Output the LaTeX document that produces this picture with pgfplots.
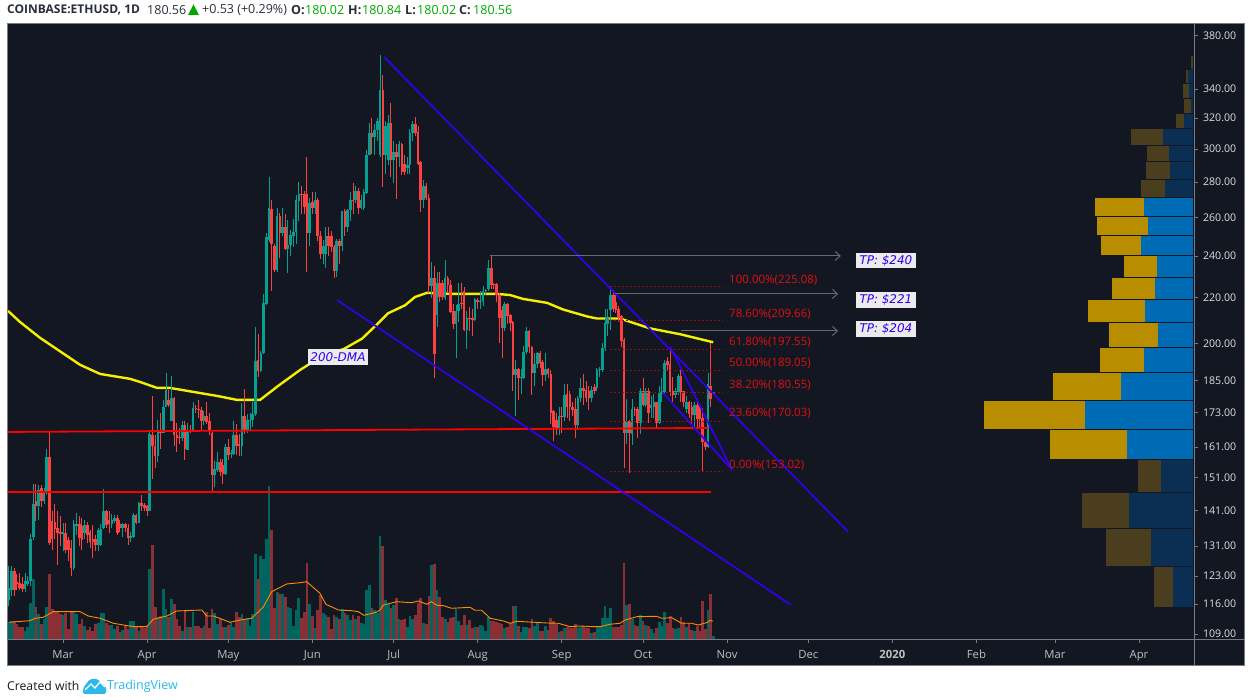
\documentclass[border=0pt]{standalone}
\usepackage{fontspec}
\setmainfont{Open Sans}
\newfontfamily\djv{DejaVu Sans}
\usepackage{pgfplots}
\usepackage{pgfplotstable}
\pgfplotsset{compat=1.18}
\usetikzlibrary{arrows.meta}
\definecolor{bg}{HTML}{131722}
\definecolor{frm}{HTML}{787B86}
\definecolor{cup}{HTML}{06A090}
\definecolor{cdn}{HTML}{FF4040}
\definecolor{vup}{HTML}{00645F}
\definecolor{vdn}{HTML}{8A2F36}
\definecolor{gold}{HTML}{B88E00}
\definecolor{blu}{HTML}{006BB5}
\definecolor{dgold}{HTML}{4B3E1E}
\definecolor{dblu}{HTML}{0A2F52}
\definecolor{trend}{HTML}{3300EE}
\definecolor{fib}{HTML}{8F1010}
\definecolor{fibt}{HTML}{E01010}
\definecolor{tvb}{HTML}{2BB9EC}
\definecolor{hg}{HTML}{00A800}
\definecolor{htx}{HTML}{2A2E39}
\definecolor{dma}{HTML}{F5F000}
\definecolor{tpl}{HTML}{666870}
\pgfplotstableread{
d o h l c v
-20 117 125.5 115.5 120 17
-19 119.5 125.5 118 124.3 18
-14 119.7 123.7 119 121.7 8
-13 121 123 120.5 121.8 12
-12 121.7 134.4 120.5 133 36
-11 133.5 149 132.5 143 60
-9 142.3 148.8 138.3 147.3 25
-7 144 147.7 143 146.7 20
-6 146.5 160.5 145.7 157.7 32
0 134.4 137.5 129.5 135 24
4 125.2 138.4 124.7 137.1 27
5 136.5 140.3 134 137.2 25
8 134.5 138.3 133 136.8 13
13 131.3 136 129.6 135.3 16
14 131.3 137 131 135.8 26
15 136 147.5 135.8 140.8 26
18 137 140 136 138.4 14
19 138 139.8 137.5 138.9 10
22 136 137.5 133.5 137 9
25 133.3 135 132 133.8 18
26 133.5 140.3 133.2 139.6 18
28 137.5 143.6 137.3 143.2 8
32 141 166.5 140.8 165.6 70
35 158 170.3 156 166.5 22
37 166 177.5 166 175 50
38 175 188 175 181.5 30
40 170 186.8 170 178.5 40
44 164 170 163 168.7 8
46 160.2 169.5 160 166.8 12
48 166.7 176.8 166.6 174.6 27
52 170 173.5 168.5 172 13
56 152 156.5 148 153.8 26
57 153.5 159.5 152.9 156 15
60 152.2 162 152 161 12
62 158.6 160 157.5 158.9 17
63 158.6 170 158.5 165 12
66 161.3 176.7 158 171.8 25
68 166.7 172.7 166 170.3 21
69 170 173 167 170.4 13
70 170.4 176.8 168 172.6 25
71 172.6 207 172 192.7 85
73 188.8 196.7 188.5 196 83
74 196 221.5 195.5 217.4 80
75 217 251.6 216.8 249.9 100
76 248 283 247 265.3 153
79 233 265 232 261 47
81 252 265 250 255 45
83 243.5 258.5 231.5 245.6 32
84 245.6 253.5 240 250.5 31
85 250 259.5 244.5 252.5 13
86 252.3 272.5 246 269.5 29
87 269 280 258 273 41
91 252 271 245 268 35
93 265 274 262 270 11
96 241 248 236 245 26
97 241 255 234 250 24
101 232.5 248.5 229.5 247.5 22
103 245 263.8 242.5 263.5 30
105 255 264.5 252.5 264 24
106 264 274.5 258 270 19
108 270 277.5 268 275 20
110 265 272.5 264.5 269.5 16
111 265.5 276 264 274 15
112 273.5 299.5 273 296 49
113 296.5 317 296 310 54
115 307.5 316 296 312 29
116 312 320 305 318 26
117 296.5 365 295 339.5 103
119 296.5 318 285 315 39
120 293 322 290 317 35
122 293.5 305 279.5 298 34
124 295 305 289 303 20
127 288.5 295 285 290 12
128 290 313 285 310 23
129 310 318 305 316 20
133 270 281 265 278 16
136 225.5 237 220 229 74
138 212 232 207 227 49
141 220 238 219 229 20
145 208 216.5 194 214 30
146 214 226.7 209 217 18
149 205.5 214 197.8 211 14
152 210 220 209.5 219.5 12
154 218 223 215 218.5 14
155 218.5 225.5 216 223 13
156 223 224 221 223.5 8
157 224 238 223 234 22
163 206.5 218 205 217 11
167 187 193 171.8 189.5 33
169 186 189.5 180 186.5 7
170 186 199 185.8 196.5 12
171 196.5 207 195.5 205 12
174 188 196 183 191.5 13
175 191.5 196.5 190 196 16
178 187 196 185 189.5 13
183 167.5 175 165 172 7
185 171.5 183.5 170 179.5 11
190 168.5 179 167 178.5 11
191 178.5 186 177 182 12
195 178.5 183 177 181.5 6
197 182 190 181 189 12
198 189 190.5 186.5 189.5 13
199 189 200 188.5 198 21
200 198 215 197 208.5 33
201 208 215 203 211 21
202 214.5 225.5 205.5 221.3 31
208 166 178 162 170.2 34
210 165.5 178 161.7 174.5 20
213 169.3 182 165.5 181 24
215 176 182 175 181 14
217 174.8 179 171 176 10
218 175.2 180 171 176.8 6
220 169.5 183 169 180.5 17
221 180 186 177 181 13
222 180.5 193 180 192 27
226 179.5 182 178.5 181 10
227 180.5 187.5 179.5 186.8 11
230 174.5 179 173 177 12
233 172.2 177 168 175.7 8
238 161 188 160.8 183.5 29
240 180.02 180.84 180.02 180.56 3
}\upt
\pgfplotstableread{
d o h l c v
-18 124.3 125 118 119.5 18
-17 121.5 123.5 119.5 121 15
-16 121.2 123.7 119.5 120 12
-15 121 122.8 119 119.7 12
-10 144 149 138 142.3 32
-8 147.7 148.8 142 144 15
-5 157.7 166.6 131.3 131.8 65
-4 138 141 130 133 30
-3 137.8 143 133 135.8 28
-2 136 140.8 125.9 134.5 27
-1 135 139.3 130.9 134.3 25
1 134.7 137.5 129 130 26
2 132.5 133.5 127 130 10
3 130.4 132.7 123 125.2 27
6 137.1 139.3 130.9 133.2 15
7 136.5 139 130 132.7 20
9 136.8 137.6 131.8 134 9
10 135 135.5 130.4 132.2 12
11 133 136.8 127.7 132.2 8
12 133 134 129.6 131.3 15
16 140.8 141.3 136 136.8 16
17 138.4 140.8 134.5 137 14
20 138.9 139.8 134 134.6 13
21 137 138.4 135 136 7
23 137 137.5 135 136 14
24 136 137 131.3 133.3 10
27 139.6 140 137 137.5 12
29 143.2 145.7 140.8 142.4 13
30 142.7 143.2 140.8 141.8 11
31 142.3 142.8 139.3 141 12
33 165 179.3 150.7 161.5 94
34 161.5 165 154 158 32
36 166.5 173 160.5 166 23
39 177.5 181.5 175 176 22
41 178.5 178.8 161.5 165 35
42 165 169.5 159.5 164 20
43 164.6 167.5 162 164 13
45 168.7 170 156.7 160.5 28
47 167 168.5 166 166.8 12
49 174.6 176 173 174.2 13
50 174.4 177.8 171 174 13
51 174 175.2 167 170 11
53 172 177 169 169.8 27
54 170 173 165 166.5 11
55 166 166.3 146.5 152 30
58 156 157 151.5 153 20
59 155 157 149 152.2 12
61 161 163.8 156.8 158.5 14
64 165 169 158.5 161.4 27
65 162 165.6 158 161.4 22
67 171.8 181.8 165.6 166.8 19
72 193 204 186.5 188.8 60
77 264.8 270 223 246 109
78 245 246 232 233 31
80 261 262.5 239 252 45
82 255 262 243 243.5 42
88 273 277.5 262 272.5 21
89 273 275 262 266 27
90 273 295 232 252 76
92 268.5 274 262 265 23
94 270 271 247.5 250 29
95 250 253 238.5 241 44
98 250 255 240 245 22
99 250 253 242 244.5 10
100 244.5 245.5 229 232.5 24
102 247.5 248.5 236 245 20
104 263.5 264.5 250 255 26
107 270 279.5 262 269 24
109 275 276.5 262 265 23
114 310 320 297 307.5 31
118 339.5 350 277 296.5 93
121 317 330 283 293.5 31
123 298 303 270.5 295 41
125 303 303.5 284 286 19
126 291 296 284 286 20
130 316 321 308 310 24
131 311 315 290 291 36
132 292 292.5 263 270 41
134 278 279.5 270 271 15
135 271 273 222 225.5 43
137 229 235 186 195.5 75
139 227 232 218 220.5 42
140 227 228 219 220.5 22
142 229 230 222 226 17
143 226 228 213 213.5 21
144 214 217 206 208 22
147 217.5 227 215 217 14
148 223 225 205 205.5 24
150 211 215.5 205 210.5 19
151 211 215 203 210 11
153 219 220 215 218 12
158 234 240 224 226 18
159 226.5 227 224 226.2 18
160 226.5 227 218 221 17
161 221 222 200 211 16
162 214.5 216 194 206.5 15
164 217 217.5 208 211.5 12
165 212 212.5 205 208.5 16
166 209 209.5 181 187 33
168 189.5 189.8 177.5 186 13
172 205 205.5 196 198.5 11
173 198.5 199 179.5 188 20
176 196 197 190 192 8
177 192.5 193 183 187 8
179 189.5 190 186 187.5 9
180 187.5 189 169 173 21
181 173.5 174 163 168 18
182 170.5 173 165 167.5 15
184 172 175 166 171.5 8
186 180 183.5 171 175 12
187 180 181 170 175 11
188 175 177 172 174 11
189 174.5 178.5 164 168.5 15
192 182 187.5 176 181 13
193 181.5 185 177 178.5 11
194 181 183 174 178.5 11
196 182.5 183.5 180 181 7
203 221.3 223.5 213.5 215 12
204 218 221 213 214.5 12
205 215 216 209 211 12
206 211.5 212 198.5 201 14
207 201.5 202 154 166 76
209 170 170.4 152.5 165.7 35
211 174.5 175 172 174 14
212 174.5 175 164 169.3 13
214 181 186 175.5 176 18
216 181 182 169.5 173 13
219 176.8 177 167.5 169.5 11
223 192.8 194.5 189 191 16
224 191.5 198.3 179.3 180.5 23
225 181 186.5 177 179.5 11
228 186.8 189 177 180.5 22
229 181 181 175 177 17
231 177 177.2 171 172.7 16
232 175 177 168.5 172.2 9
234 175.7 178 168 170.8 13
235 175 175.3 168 170.8 8
236 171 174.6 152.9 162.6 38
237 162.6 163.5 160 161 10
239 183 200 175 178 45
}\dnt
\newcommand\fs[1]{\fontsize{#1}{#1}\selectfont}
% one row of the volume profile: low, high, sell-side, total, colours
\newcommand\pv[6]{%
  \addplot[fill=#6,draw=none,forget plot] coordinates {(#4,#1)(0,#1)(0,#2)(#4,#2)} --cycle;
  \addplot[fill=#5,draw=none,forget plot] coordinates {(#3,#1)(0,#1)(0,#2)(#3,#2)} --cycle;
}
\begin{document}
\begin{tikzpicture}
\useasboundingbox (0,0) rectangle (1255pt,700pt);
\fill[white] (0,0) rectangle (1255pt,700pt);
\begin{scope}[shift={(0,700pt)},x=1pt,y=-1pt]
\fill[bg] (7.5,23.5) rectangle (1244.5,666);
\draw[frm,line width=1pt] (7.5,23.5) rectangle (1244.5,666);
\draw[frm,line width=1pt] (7.5,639.5) -- (1244.5,639.5);
\draw[frm,line width=1pt] (1194.5,23.5) -- (1194.5,666);
\end{scope}
% volume pane
\begin{axis}[name=vol,at={(8pt,61pt)},anchor=south west,scale only axis,width=1186pt,height=616pt,
  xmin=-20.3,xmax=417.3,ymin=0,ymax=616,hide axis,clip=true]
\addplot[ycomb,line width=2.75pt,color=vup,mark=none] table[x=d,y=v] {\upt};
\addplot[ycomb,line width=2.75pt,color=vdn,mark=none] table[x=d,y=v] {\dnt};
\addplot[color=orange!90!yellow,line width=0.9pt] coordinates {
(-20,16.7)(-12.2,18.3)(-10.3,20.7)(-7.3,21.7)(-3.6,27.3)(6.3,27.3)(9.3,23)(13.7,20.7)(18.6,15.7)(26,12.3)(30.9,12.3)(33.3,19.7)(38.3,23)(41.9,28)(51.2,29)(53,23)(55.5,23)(61.6,16.7)(65.3,19)(69.6,20.7)(73.9,32)(77,47.3)(82.5,55)(87.5,56.3)(89.9,57.3)(94.8,45.7)(97,34.7)(101.6,29)(106.5,28.3)(109,27.3)(111,23.7)(115.5,26.7)(117,29)(118.2,34)(123.1,37.3)(128.6,36.3)(131.1,38)(134.2,34.7)(136,37.3)(137.9,33.7)(140.4,33.3)(143.4,30.7)(150.2,31.7)(152,28.7)(154.5,28.7)(157.6,20.7)(162.5,18)(165,15.7)(167.4,17.7)(178.5,16)(182.8,15.7)(187.1,12.3)(190.7,13)(195.7,12.3)(198.2,12.3)(201.8,14.7)(205.5,15.7)(207.4,19)(211.7,22.3)(219,22.7)(220.9,20.7)(224.6,21.3)(228.2,15.7)(231.9,15.7)(234.4,14)(237.4,16.3)(238.9,18.7)(239.8,17.7)};
\end{axis}
% volume profile
\begin{axis}[at={(8pt,61pt)},anchor=south west,scale only axis,width=1185pt,height=616pt,
  x dir=reverse,xmin=0,xmax=1185,ymode=log,ymin=107.87,ymax=390.4,hide axis,clip=true]
\pv{354.7}{364.4}{0.3}{2.3}{dblu}{dgold}
\pv{344.2}{353.9}{5.3}{7.3}{dblu}{dgold}
\pv{333.8}{343.7}{4}{10}{dblu}{dgold}
\pv{323.5}{333.3}{2}{9}{dblu}{dgold}
\pv{313.7}{322.9}{9.3}{17.3}{dblu}{dgold}
\pv{302.6}{312.9}{29.7}{62}{dblu}{dgold}
\pv{292.5}{302}{24.3}{45.7}{dblu}{dgold}
\pv{281.9}{291.9}{22.7}{46.7}{dblu}{dgold}
\pv{271.5}{281.3}{27.7}{52.3}{dblu}{dgold}
\pv{260.9}{270.9}{48.7}{98}{blu}{gold}
\pv{250.8}{260.4}{45.3}{95.7}{blu}{gold}
\pv{240.5}{250.2}{52.3}{92.3}{blu}{gold}
\pv{229.7}{240}{36}{69.3}{blu}{gold}
\pv{219.4}{229.2}{38.3}{81.3}{blu}{gold}
\pv{209.1}{218.9}{47.7}{105.3}{blu}{gold}
\pv{198.5}{208.7}{35.3}{84.3}{blu}{gold}
\pv{188.4}{198.1}{48.7}{93}{blu}{gold}
\pv{177.7}{188}{72.3}{139.7}{blu}{gold}
\pv{167.2}{177.3}{108.3}{209}{blu}{gold}
\pv{157.1}{166.9}{66.3}{143.3}{blu}{gold}
\pv{146.6}{156.8}{31.7}{54.7}{dblu}{dgold}
\pv{136}{146.3}{64.3}{110.7}{dblu}{dgold}
\pv{125.6}{135.7}{42.3}{87.3}{dblu}{dgold}
\pv{115.3}{125.4}{20.3}{39}{dblu}{dgold}
\end{axis}
% price pane
\begin{axis}[at={(8pt,61pt)},anchor=south west,scale only axis,width=1186pt,height=616pt,
  xmin=-20.3,xmax=417.3,ymode=log,ymin=107.87,ymax=390.4,clip=true,
  axis line style={draw=none},tick align=outside,major tick length=4pt,
  tick style={color=frm,line width=0.8pt},
  xtick pos=bottom,ytick pos=right,
  xtick={0,31,61,92,122,153,184,214,245,275,306,337,366,397},
  xticklabels={Mar,Apr,May,Jun,Jul,Aug,Sep,Oct,Nov,Dec,\bfseries 2020,Feb,Mar,Apr},
  ytick={109,116,123,131,141,151,161,173,185,200,220,240,260,280,300,320,340,380},
  yticklabels={109.00,116.00,123.00,131.00,141.00,151.00,161.00,173.00,185.00,200.00,220.00,240.00,260.00,280.00,300.00,320.00,340.00,380.00},
  minor tick num=0,
  x tick label style={font=\fs{11.3},color=black!25,yshift=-3.5pt},
  y tick label style={font=\fs{10.6},color=black!12,xshift=1.5pt}]
% 200-day average
\addplot[color=dma,line width=2.4pt] coordinates {
(-20.3,214)(-15.9,209.1)(-8.5,202.3)(-1.1,196.7)(6.3,191.2)(13.7,187.6)(24.7,185.7)(28.4,184.5)(34.7,182.2)(39.5,182.2)(48,180.7)(56.8,179.2)(64.2,177.7)(72.7,177.7)(79.3,182.9)(87.5,189.2)(94.8,194.2)(103.7,197.7)(110.3,201.9)(115.9,208.1)(119.9,212.9)(126.2,216.5)(129.9,220.3)(134.3,222.2)(143.9,221.7)(152.8,221.7)(160.1,221.7)(164.9,221.2)(169.7,219.4)(178.6,217.6)(184.5,214.6)(193.4,211.5)(197,210.6)(205.5,210.6)(216.6,206.3)(227.7,203.8)(239.9,200.4)};
% wicks and bodies
\addplot[draw=none,mark=none,error bars/.cd,y dir=plus,y explicit,error mark=none,error bar style={line width=1pt,color=cdn}] table[x=d,y=l,y error plus expr=\thisrow{h}-\thisrow{l}] {\dnt};
\addplot[draw=none,mark=none,error bars/.cd,y dir=plus,y explicit,error mark=none,error bar style={line width=1pt,color=cup}] table[x=d,y=l,y error plus expr=\thisrow{h}-\thisrow{l}] {\upt};
\addplot[draw=none,mark=none,error bars/.cd,y dir=plus,y explicit,error mark=none,error bar style={line width=2.6pt,color=cdn}] table[x=d,y=c,y error plus expr=\thisrow{o}-\thisrow{c}] {\dnt};
\addplot[draw=none,mark=none,error bars/.cd,y dir=plus,y explicit,error mark=none,error bar style={line width=2.6pt,color=cup}] table[x=d,y=o,y error plus expr=\thisrow{c}-\thisrow{o}] {\upt};
% support lines
\addplot[color=red,line width=1.8pt] coordinates {(-20.3,166.2)(238,167.6)};
\addplot[color=red,line width=1.8pt] coordinates {(-20.3,146.5)(239,146.5)};
% channel and wedge
\addplot[color=trend,line width=1.7pt] coordinates {(118.5,363.6)(289.7,134.9)};
\addplot[color=trend,line width=1.7pt] coordinates {(101.1,218.9)(268.6,115.8)};
\addplot[color=trend,line width=1.7pt] coordinates {(224,198.6)(246.9,153.5)};
\addplot[color=trend,line width=1.7pt] coordinates {(221.4,180.3)(246.9,153.5)};
% Fibonacci levels
\addplot[color=fib,line width=0.8pt,dash pattern=on 2.5pt off 1.5pt] coordinates {(201.8,225.08)(243.5,225.08)};
\addplot[color=fib,line width=0.8pt,dash pattern=on 2.5pt off 1.5pt] coordinates {(201.8,209.66)(243.5,209.66)};
\addplot[color=fib,line width=0.8pt,dash pattern=on 2.5pt off 1.5pt] coordinates {(201.8,197.55)(243.5,197.55)};
\addplot[color=fib,line width=0.8pt,dash pattern=on 2.5pt off 1.5pt] coordinates {(201.8,189.05)(243.5,189.05)};
\addplot[color=fib,line width=0.8pt,dash pattern=on 2.5pt off 1.5pt] coordinates {(201.8,180.55)(243.5,180.55)};
\addplot[color=fib,line width=0.8pt,dash pattern=on 2.5pt off 1.5pt] coordinates {(201.8,170.03)(243.5,170.03)};
\addplot[color=fib,line width=0.8pt,dash pattern=on 2.5pt off 1.5pt] coordinates {(201.8,153.02)(243.5,153.02)};
% targets
\addplot[color=tpl,line width=1pt,-{Straight Barb[length=5pt,width=9pt]}] coordinates {(157.6,240)(287,240)};
\addplot[color=tpl,line width=1pt,-{Straight Barb[length=5pt,width=9pt]}] coordinates {(203.7,221.7)(286,221.7)};
\addplot[color=tpl,line width=1pt,-{Straight Barb[length=5pt,width=9pt]}] coordinates {(228,205.2)(286,205.2)};
\end{axis}
\begin{scope}[shift={(0,700pt)},x=1pt,y=-1pt]
% Fibonacci labels
\foreach \yy/\lbl in {280/100.00\%(225.08),314/78.60\%(209.66),342/61.80\%(197.55),363/50.00\%(189.05),385/38.20\%(180.55),413/23.60\%(170.03),465/0.00\%(153.02)}
  \node[anchor=west,inner sep=0pt,text=fibt,font=\fs{11.5}] at (729,\yy) {\lbl};
% boxed labels
\foreach \xx/\yy/\lbl in {886/260.5/{TP: \$240},886/300/{TP: \$221},886/329/{TP: \$204},338/357/{200-DMA}}
  \node[fill=black!8,text=trend,inner sep=0pt,minimum width=60pt,minimum height=15.5pt,font=\djv\itshape\fs{12}] at (\xx,\yy) {\lbl};
% header
\foreach \xx/\cc/\lbl in {7/htx/{\fs{12}\bfseries COINBASE:ETHUSD, 1D},147/htx/180.56,202/htx/{+0.53 (+0.29\%)},291/htx/{\bfseries O:},305/hg/180.02,348/htx/{\bfseries H:},362/hg/180.84,405/htx/{\bfseries L:},417/hg/180.02,459/htx/{\bfseries C:},473/hg/180.56}
  \node[anchor=west,inner sep=0pt,text=\cc,font=\fs{12.5}] at (\xx,10) {\lbl};
\fill[hg] (188,15) -- (199,15) -- (193.5,4.5) -- cycle;
% footer
\node[anchor=west,inner sep=0pt,text=black!90,font=\fs{12.2}] at (7,686) {Created with};
\node[anchor=west,inner sep=0pt,text=tvb,font=\fs{12.5}] at (107,686) {TradingView};
\fill[tvb,rounded corners=2pt] (83,694) -- (83,688) -- (90,679) -- (98,679) -- (102,684) -- (106,686) -- (106,694) -- cycle;
\draw[white,line width=1.3pt] (85,690) -- (91,684) -- (95,688) -- (100,682) -- (105,687);
\end{scope}
\end{tikzpicture}
\end{document}
